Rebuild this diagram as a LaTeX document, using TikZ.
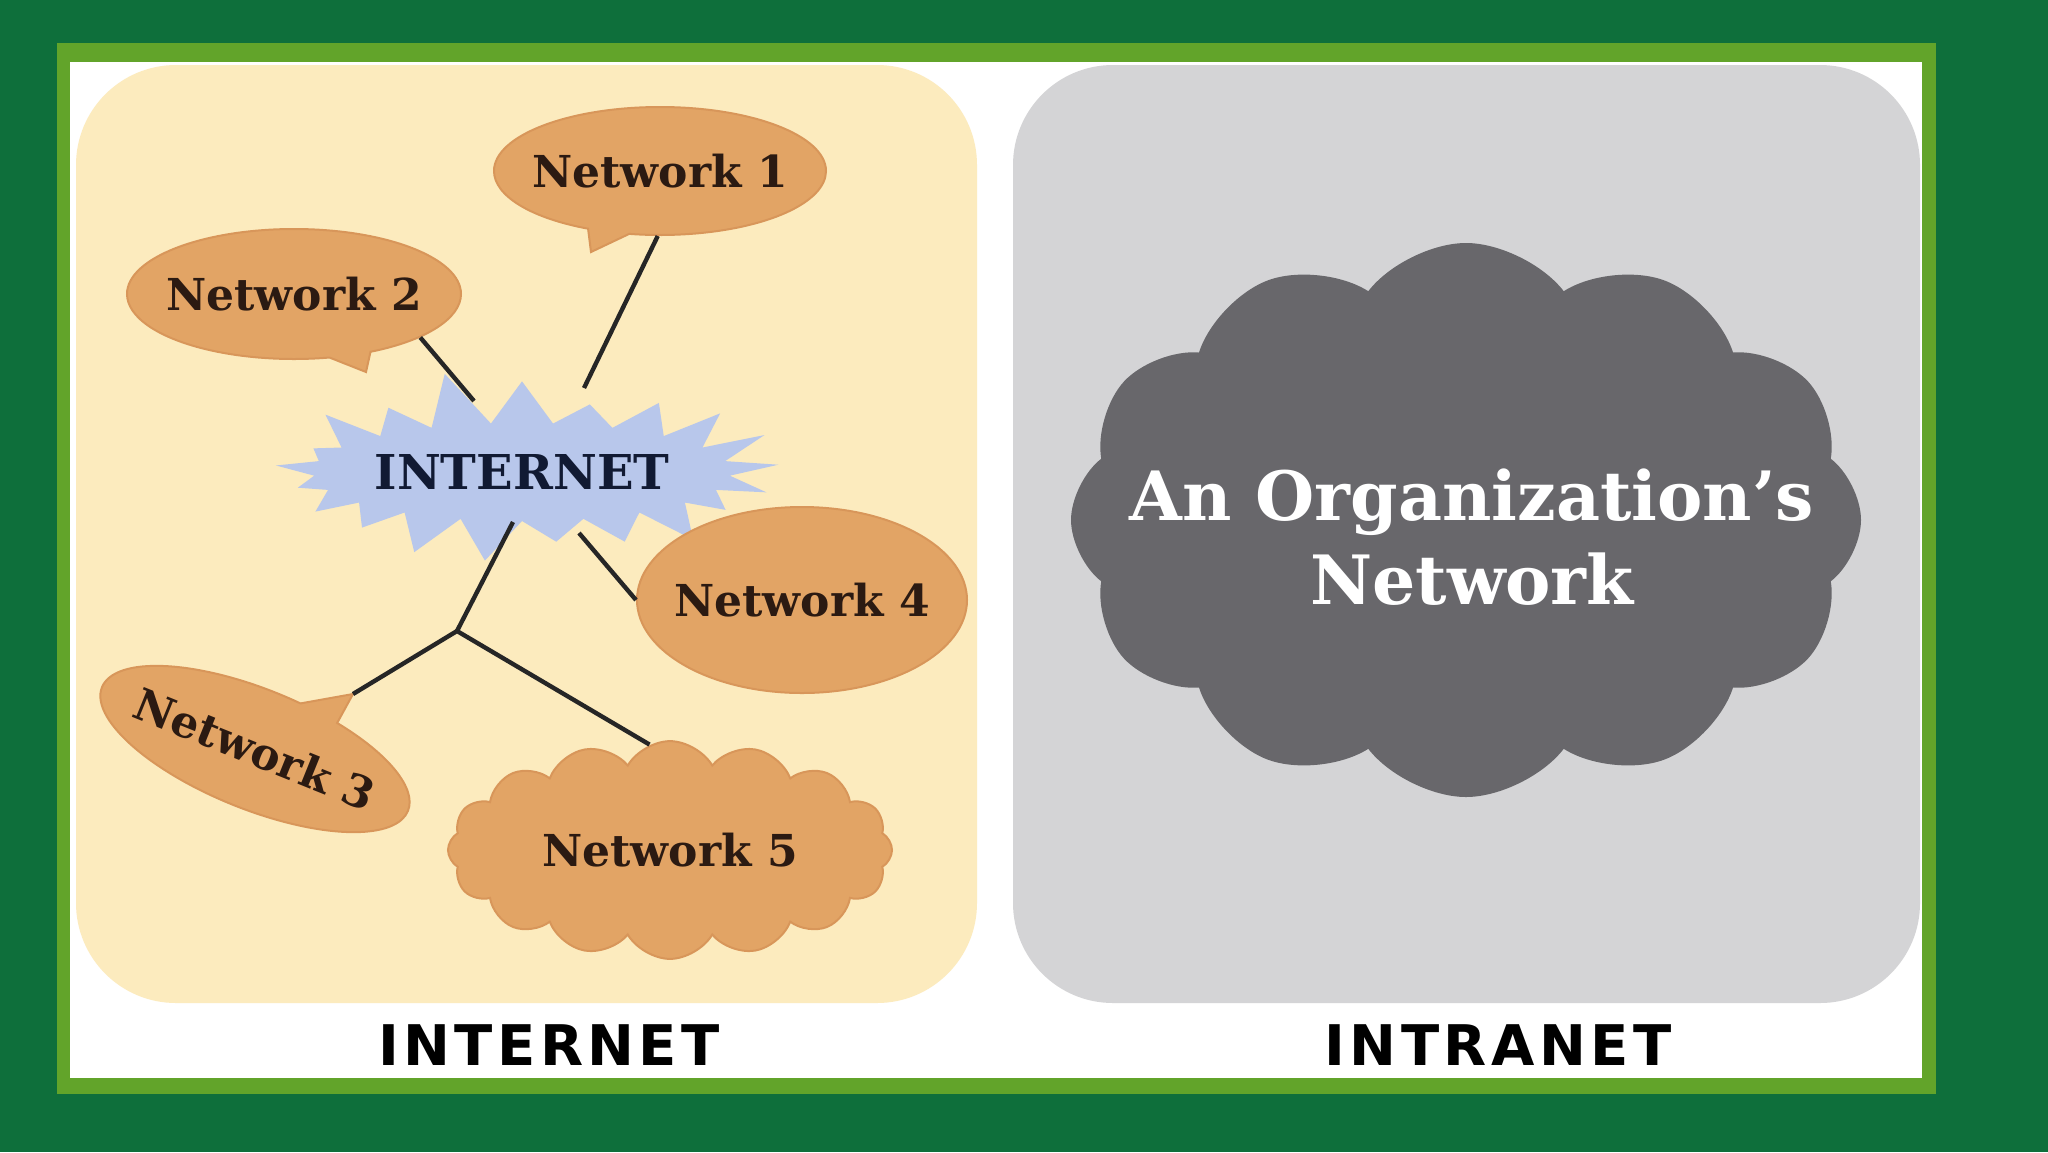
\documentclass[tikz,border=0pt]{standalone}
\usepackage{fontspec}
\setmainfont{DejaVu Serif}
\newfontfamily\labelfont[LetterSpace=8.0]{DejaVu Sans}
\usetikzlibrary{shapes.geometric,shapes.symbols,shapes.callouts}

\definecolor{darkgreen}{HTML}{0E6F3B}
\definecolor{framegreen}{HTML}{62A42A}
\definecolor{sand}{HTML}{FCEBBE}
\definecolor{bubble}{HTML}{E2A465}
\definecolor{bubbleedge}{HTML}{D8965A}
\definecolor{burst}{HTML}{B8C7EB}
\definecolor{panelgray}{HTML}{D4D4D6}
\definecolor{cloudgray}{HTML}{68676B}
\definecolor{inkbrown}{HTML}{2B1A12}
\definecolor{inknavy}{HTML}{111A33}

\begin{document}
\begin{tikzpicture}
  [x=.5pt,y=-.5pt,
   netbubble/.style={fill=bubble,draw=bubbleedge,line width=1pt,text=inkbrown,
     font=\bfseries\fontsize{22}{26}\selectfont,inner xsep=-14pt,inner ysep=0pt},
   link/.style={line width=2.2pt,draw=black!85},
   caption/.style={font=\labelfont\bfseries\fontsize{28}{30}\selectfont}]

  \useasboundingbox (0,0) rectangle (2048,1152);
  % frame and panels
  \fill[darkgreen] (0,0) rectangle (2048,1152);
  \fill[framegreen] (57,43) rectangle (1936,1094);
  \fill[white] (70,62) rectangle (1922,1078);
  \fill[sand,rounded corners=50pt] (76,65) rectangle (977,1003);
  \fill[panelgray,rounded corners=50pt] (1013,65) rectangle (1920,1003);

  % internet side
  \coordinate (tail1) at (591,252);
  \coordinate (tail2) at (366,372);
  \coordinate (tail3) at (353,694);

  \node[starburst,fill=burst,starburst points=21,starburst point height=28pt,
    random starburst=11,minimum width=175pt,minimum height=105pt,inner sep=0pt,
    text=inknavy,font=\bfseries\fontsize{24}{28}\selectfont] (inet) at (522,472) {INTERNET};

  \node[netbubble,ellipse callout,callout absolute pointer=(tail1),
    minimum width=166pt,minimum height=64pt] (net1) at (660,171) {Network 1};
  \node[netbubble,ellipse callout,callout absolute pointer=(tail2),
    minimum width=167pt,minimum height=65pt] (net2) at (294,294) {Network 2};
  \node[netbubble,ellipse callout,callout absolute pointer=(tail3),rotate=-22,
    minimum width=165pt,minimum height=60pt] (net3) at (255,749) {Network 3};
  \node[netbubble,ellipse,minimum width=165pt,minimum height=93pt] (net4) at (802,600) {Network 4};
  \node[netbubble,cloud,cloud puffs=16,cloud puff arc=120,aspect=2,inner xsep=0pt,
    minimum width=222pt,minimum height=108pt] (net5) at (670,850) {Network 5};

  \coordinate (burst1) at (584,388);
  \coordinate (burst2) at (474,401);
  \coordinate (burst4) at (579,533);
  \coordinate (burst0) at (513,522);
  \coordinate (hub) at (457,631);

  \path[link] (net1.-92) edge (burst1)
              (net2.-19) edge (burst2)
              (net4.west) edge (burst4)
              (burst0) edge (hub)
              (hub) edge (tail3)
              (hub) edge (net5.101);

  % intranet side
  \node[cloud,cloud puffs=12,cloud puff arc=105,aspect=1.4,fill=cloudgray,
    minimum width=395pt,minimum height=277pt,inner sep=0pt] (orgnet) at (1466,520) {};
  \node[text=white,align=center,font=\bfseries\fontsize{34}{42}\selectfont]
    (orgtext) at (1472,537) {An Organization’s\\Network};

  \node[caption] (inetlabel) at (549,1045) {INTERNET};
  \node[caption] (intralabel) at (1498,1045) {INTRANET};
\end{tikzpicture}
\end{document}
